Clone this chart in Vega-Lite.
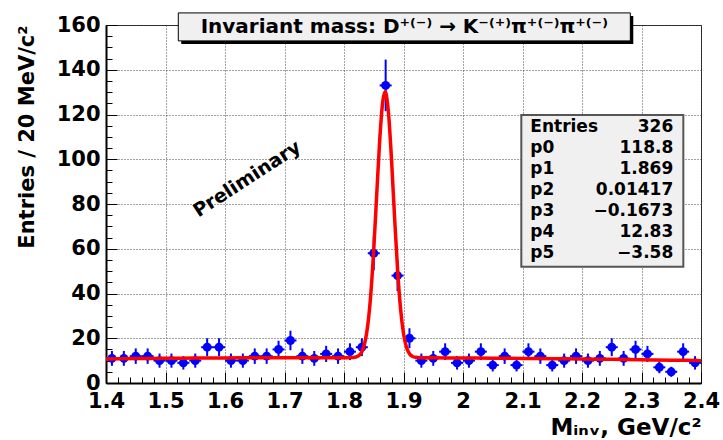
{
  "$schema": "https://vega.github.io/schema/vega-lite/v6.json",
  "width": 595,
  "height": 358,
  "autosize": {"type": "none"},
  "padding": {"left": 106, "top": 25, "right": 22, "bottom": 57},
  "background": "#ffffff",
  "config": {
    "view": {"stroke": "#222222", "strokeWidth": 1},
    "font": "DejaVu Sans",
    "axis": {
      "labelFont": "DejaVu Sans",
      "labelFontWeight": "bold",
      "labelFontSize": 21,
      "labelColor": "#000000",
      "titleFont": "DejaVu Sans",
      "titleFontWeight": "bold",
      "titleColor": "#000000",
      "tickColor": "#000000",
      "domainColor": "#000000",
      "labelFlush": false,
      "labelOverlap": false
    }
  },
  "datasets": {
    "hist": [
      {"x": 1.41, "v": 11, "err": 3.32}, {"x": 1.43, "v": 11, "err": 3.32}, {"x": 1.45, "v": 12, "err": 3.46}, {"x": 1.47, "v": 12, "err": 3.46}, {"x": 1.49, "v": 10, "err": 3.16},
      {"x": 1.51, "v": 10, "err": 3.16}, {"x": 1.53, "v": 9, "err": 3.0}, {"x": 1.55, "v": 10, "err": 3.16}, {"x": 1.57, "v": 16, "err": 4.0}, {"x": 1.59, "v": 16, "err": 4.0},
      {"x": 1.61, "v": 10, "err": 3.16}, {"x": 1.63, "v": 10, "err": 3.16}, {"x": 1.65, "v": 12, "err": 3.46}, {"x": 1.67, "v": 12, "err": 3.46}, {"x": 1.69, "v": 15, "err": 3.87},
      {"x": 1.71, "v": 19, "err": 4.36}, {"x": 1.73, "v": 12, "err": 3.46}, {"x": 1.75, "v": 11, "err": 3.32}, {"x": 1.77, "v": 13, "err": 3.61}, {"x": 1.79, "v": 12, "err": 3.46},
      {"x": 1.81, "v": 14, "err": 3.74}, {"x": 1.83, "v": 16, "err": 4.0}, {"x": 1.85, "v": 58, "err": 7.62}, {"x": 1.87, "v": 133, "err": 11.53}, {"x": 1.89, "v": 48, "err": 6.93},
      {"x": 1.91, "v": 20, "err": 4.47}, {"x": 1.93, "v": 10, "err": 3.16}, {"x": 1.95, "v": 11, "err": 3.32}, {"x": 1.97, "v": 14, "err": 3.74}, {"x": 1.99, "v": 9, "err": 3.0},
      {"x": 2.01, "v": 10, "err": 3.16}, {"x": 2.03, "v": 14, "err": 3.74}, {"x": 2.05, "v": 8, "err": 2.83}, {"x": 2.07, "v": 12, "err": 3.46}, {"x": 2.09, "v": 8, "err": 2.83},
      {"x": 2.11, "v": 14, "err": 3.74}, {"x": 2.13, "v": 12, "err": 3.46}, {"x": 2.15, "v": 8, "err": 2.83}, {"x": 2.17, "v": 10, "err": 3.16}, {"x": 2.19, "v": 12, "err": 3.46},
      {"x": 2.21, "v": 10, "err": 3.16}, {"x": 2.23, "v": 11, "err": 3.32}, {"x": 2.25, "v": 16, "err": 4.0}, {"x": 2.27, "v": 11, "err": 3.32}, {"x": 2.29, "v": 15, "err": 3.87},
      {"x": 2.31, "v": 13, "err": 3.61}, {"x": 2.33, "v": 7, "err": 2.65}, {"x": 2.35, "v": 5, "err": 2.24}, {"x": 2.37, "v": 14, "err": 3.74}, {"x": 2.39, "v": 9, "err": 3.0}
    ],
    "fit": [
      {"x": 1.40, "y": 10.78}, {"x": 1.45, "y": 10.91}, {"x": 1.50, "y": 11.02}, {"x": 1.55, "y": 11.12}, {"x": 1.60, "y": 11.20},
      {"x": 1.65, "y": 11.26}, {"x": 1.70, "y": 11.30}, {"x": 1.75, "y": 11.32}, {"x": 1.80, "y": 11.33}, {"x": 1.81, "y": 11.35},
      {"x": 1.815, "y": 11.41}, {"x": 1.82, "y": 11.63}, {"x": 1.825, "y": 12.28}, {"x": 1.83, "y": 14.01}, {"x": 1.835, "y": 18.00},
      {"x": 1.84, "y": 25.96}, {"x": 1.845, "y": 39.63}, {"x": 1.85, "y": 59.67}, {"x": 1.855, "y": 84.24}, {"x": 1.86, "y": 108.43},
      {"x": 1.865, "y": 125.48}, {"x": 1.869, "y": 130.12}, {"x": 1.87, "y": 129.81}, {"x": 1.875, "y": 119.93}, {"x": 1.88, "y": 99.20},
      {"x": 1.885, "y": 74.10}, {"x": 1.89, "y": 50.92}, {"x": 1.895, "y": 33.36}, {"x": 1.90, "y": 22.15}, {"x": 1.905, "y": 16.00},
      {"x": 1.91, "y": 13.10}, {"x": 1.915, "y": 11.90}, {"x": 1.92, "y": 11.48}, {"x": 1.93, "y": 11.27}, {"x": 1.95, "y": 11.24},
      {"x": 2.00, "y": 11.17}, {"x": 2.05, "y": 11.09}, {"x": 2.10, "y": 10.99}, {"x": 2.15, "y": 10.87}, {"x": 2.20, "y": 10.73},
      {"x": 2.25, "y": 10.58}, {"x": 2.30, "y": 10.40}, {"x": 2.35, "y": 10.21}, {"x": 2.40, "y": 10.00}
    ]
  },
  "layer": [
    {
      "data": {"name": "hist"},
      "mark": {"type": "errorbar", "ticks": false, "color": "#0000ff", "thickness": 2},
      "encoding": {
        "x": {"field": "x", "type": "quantitative", "scale": {"domain": [1.4, 2.4], "nice": false, "zero": false}, "axis": null},
        "y": {"field": "v", "type": "quantitative", "scale": {"domain": [0, 160], "nice": false, "zero": false}, "axis": null},
        "yError": {"field": "err"}
      }
    },
    {
      "data": {"name": "hist"},
      "mark": {"type": "tick", "orient": "horizontal", "size": 12, "thickness": 2, "color": "#0000ff", "opacity": 1},
      "encoding": {
        "x": {"field": "x", "type": "quantitative", "scale": {"domain": [1.4, 2.4], "nice": false, "zero": false},
          "axis": {"orient": "bottom", "values": [1.4,1.42,1.44,1.46,1.48,1.5,1.52,1.54,1.56,1.58,1.6,1.62,1.64,1.66,1.68,1.7,1.72,1.74,1.76,1.78,1.8,1.82,1.84,1.86,1.88,1.9,1.92,1.94,1.96,1.98,2,2.02,2.04,2.06,2.08,2.1,2.12,2.14,2.16,2.18,2.2,2.22,2.24,2.26,2.28,2.3,2.32,2.34,2.36,2.38,2.4],
            "labels": false, "domain": false, "grid": false, "tickSize": -6, "tickWidth": 1, "title": null}},
        "y": {"field": "v", "type": "quantitative", "scale": {"domain": [0, 160], "nice": false, "zero": false},
          "axis": {"orient": "left", "values": [0,5,10,15,20,25,30,35,40,45,50,55,60,65,70,75,80,85,90,95,100,105,110,115,120,125,130,135,140,145,150,155,160],
            "labels": false, "domain": false, "grid": false, "tickSize": -6, "tickWidth": 1, "title": null}}
      }
    },
    {
      "data": {"name": "hist"},
      "mark": {"type": "point", "filled": true, "shape": "circle", "size": 80, "color": "#0000ff", "opacity": 1},
      "encoding": {
        "x": {"field": "x", "type": "quantitative", "scale": {"domain": [1.4, 2.4], "nice": false, "zero": false},
          "axis": {"orient": "bottom", "values": [1.4,1.5,1.6,1.7,1.8,1.9,2,2.1,2.2,2.3,2.4], "format": "~g",
            "tickSize": -11, "tickWidth": 1, "domainWidth": 2, "labelPadding": 18,
            "grid": true, "gridColor": "#444444", "gridDash": [1, 2], "gridWidth": 1,
            "title": "Mᵢₙᵥ, GeV/c²", "titleFontSize": 23, "titleX": 595, "titleY": 51, "titleAlign": "right", "titleBaseline": "alphabetic", "titleAnchor": null}},
        "y": {"field": "v", "type": "quantitative", "scale": {"domain": [0, 160], "nice": false, "zero": false},
          "axis": {"orient": "left", "values": [0,20,40,60,80,100,120,140,160],
            "tickSize": -11, "tickWidth": 1, "domainWidth": 2, "labelPadding": 17,
            "grid": true, "gridColor": "#444444", "gridDash": [1, 2], "gridWidth": 1,
            "title": "Entries / 20 MeV/c²", "titleFontSize": 21, "titleAngle": -90, "titleX": -73, "titleY": 0, "titleAlign": "right", "titleBaseline": "alphabetic", "titleAnchor": null}}
      }
    },
    {
      "data": {"name": "fit"},
      "mark": {"type": "line", "color": "#ff0000", "strokeWidth": 3.5, "interpolate": "monotone"},
      "encoding": {
        "x": {"field": "x", "type": "quantitative", "scale": {"domain": [1.4, 2.4], "nice": false, "zero": false}, "axis": null},
        "y": {"field": "y", "type": "quantitative", "scale": {"domain": [0, 160], "nice": false, "zero": false}, "axis": null}
      }
    },
    {
      "data": {"values": [{}]},
      "mark": {"type": "rect", "fill": "#000000"},
      "encoding": {
        "x": {"datum": 1.5265, "type": "quantitative", "axis": null}, "x2": {"datum": 2.2862},
        "y": {"datum": 164.0, "type": "quantitative", "axis": null}, "y2": {"datum": 151.5}
      }
    },
    {
      "data": {"values": [{}]},
      "mark": {"type": "rect", "fill": "#f0f0f0", "stroke": "#000000", "strokeWidth": 1},
      "encoding": {
        "x": {"datum": 1.5215, "type": "quantitative", "axis": null}, "x2": {"datum": 2.2812},
        "y": {"datum": 165.4, "type": "quantitative", "axis": null}, "y2": {"datum": 152.9}
      }
    },
    {
      "data": {"values": [{}]},
      "mark": {"type": "text", "text": "Invariant mass: D⁺⁽⁻⁾ → K⁻⁽⁺⁾π⁺⁽⁻⁾π⁺⁽⁻⁾", "font": "DejaVu Sans", "fontWeight": "bold", "fontSize": 20, "color": "#000000", "align": "center", "baseline": "middle"},
      "encoding": {
        "x": {"datum": 1.9013, "type": "quantitative", "axis": null},
        "y": {"datum": 159.0, "type": "quantitative", "axis": null}
      }
    },
    {
      "data": {"values": [{}]},
      "mark": {"type": "rect", "fill": "#f0f0f0", "stroke": "#555555", "strokeWidth": 2},
      "encoding": {
        "x": {"datum": 2.098, "type": "quantitative", "axis": null}, "x2": {"datum": 2.3703},
        "y": {"datum": 119.8, "type": "quantitative", "axis": null}, "y2": {"datum": 51.9}
      }
    },
    {
      "data": {"values": [{}]},
      "mark": {"type": "text", "text": ["Entries", "p0", "p1", "p2", "p3", "p4", "p5"], "lineHeight": 21, "font": "DejaVu Sans", "fontWeight": "bold", "fontSize": 17, "color": "#000000", "align": "left", "baseline": "alphabetic"},
      "encoding": {
        "x": {"datum": 2.1131, "type": "quantitative", "axis": null},
        "y": {"datum": 112.1, "type": "quantitative", "axis": null}
      }
    },
    {
      "data": {"values": [{}]},
      "mark": {"type": "text", "text": ["326", "118.8", "1.869", "0.01417", "−0.1673", "12.83", "−3.58"], "lineHeight": 21, "font": "DejaVu Sans", "fontWeight": "bold", "fontSize": 17, "color": "#000000", "align": "right", "baseline": "alphabetic"},
      "encoding": {
        "x": {"datum": 2.3534, "type": "quantitative", "axis": null},
        "y": {"datum": 112.1, "type": "quantitative", "axis": null}
      }
    },
    {
      "data": {"values": [{}]},
      "mark": {"type": "text", "text": "Preliminary", "angle": -33, "font": "DejaVu Sans", "fontWeight": "bold", "fontSize": 19, "color": "#000000", "align": "center", "baseline": "middle"},
      "encoding": {
        "x": {"datum": 1.637, "type": "quantitative", "axis": null},
        "y": {"datum": 91.2, "type": "quantitative", "axis": null}
      }
    }
  ],
  "resolve": {"axis": {"x": "independent", "y": "independent"}}
}
